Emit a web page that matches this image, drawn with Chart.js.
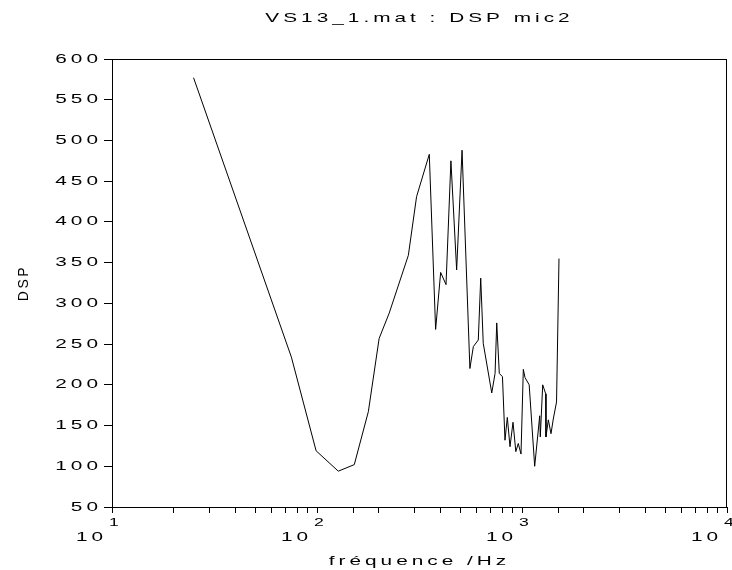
<!DOCTYPE html>
<html lang="fr">

<head>
    <meta charset="UTF-8">
    <script src="https://cdn.jsdelivr.net/npm/chart.js"></script>
    <title>VS13_1.mat : DSP mic2</title>
    <style>
        body { margin: 0; background: #fff; }
        canvas { display: block; }
    </style>
</head>

<body>
    <canvas id="graphDsp" width="732" height="570"></canvas>
</body>

</html>

<script>

    // valeurs
    const frequences = [25, 75, 99, 127, 152, 178, 201, 225, 279, 306,
        353, 379, 401, 426, 450, 480, 510, 557, 579, 612,
        629, 647, 712, 739, 753, 775, 803, 826, 848, 874,
        904, 933, 959, 989, 1015, 1034, 1084, 1153, 1220, 1228,
        1262, 1305, 1309, 1344, 1385, 1421, 1474, 1515];
    const dsp = [577, 234, 119, 94, 102, 167, 257, 288, 359, 431,
        483, 268, 338, 323, 475, 341, 488, 220, 247, 255,
        331, 251, 190, 214, 276, 214, 210, 132, 160, 124,
        154, 118, 128, 115, 219, 209, 200, 100, 162, 136,
        200, 189, 136, 157, 140, 158, 179, 355];

    // exposants des etiquettes 10^n de l'axe x
    const exposants = ['1', '2', '3', '4'];
    const yMin = 50, yMax = 600, yPas = 50;

    const police = "'Liberation Sans', Arial, sans-serif";
    const espacement = '2.5px';
    const etirement = 1.6; // le texte de la figure est elargi horizontalement

    const points = frequences.map((f, i) => ({ x: f, y: dsp[i] }));

    const ctx = document.getElementById('graphDsp').getContext('2d');

    // texte horizontal elargi autour de son point d'ancrage (le texte tourne reste normal)
    const fillTextOrig = ctx.fillText;
    ctx.fillText = function (texte, x, y, maxW) {
        const m = this.getTransform();
        if (Math.abs(m.b) > 0.01) {
            return fillTextOrig.call(this, texte, x, y, maxW);
        }
        this.save();
        this.translate(x, y);
        this.scale(etirement, 1);
        fillTextOrig.call(this, texte, 0, 0);
        this.restore();
    };

    // cadre complet + etiquettes "10" avec exposant
    const pluginCadre = {
        id: 'cadre',
        beforeDraw(chart) {
            chart.ctx.letterSpacing = espacement;
        },
        afterDraw(chart) {
            const c = chart.ctx;
            const a = chart.chartArea;
            const xs = chart.scales.x;
            c.save();
            c.strokeStyle = '#000';
            c.lineWidth = 1;
            c.strokeRect(Math.round(a.left) + 0.5, Math.round(a.top) + 0.5,
                Math.round(a.right - a.left) - 1, Math.round(a.bottom - a.top));

            c.fillStyle = '#000';
            c.textBaseline = 'middle';
            c.textAlign = 'left';
            c.letterSpacing = espacement;
            exposants.forEach(e => {
                const px = xs.getPixelForValue(Math.pow(10, Number(e)));
                c.font = '13px ' + police;
                c.fillText('10', px - 36, xs.top + 30);
                c.font = '11px ' + police;
                c.fillText(e, px - 3, xs.top + 16);
            });
            c.restore();
        }
    };

    const graph = new Chart(ctx, {
        type: 'line',
        data: {
            datasets: [{
                label: 'DSP mic2',
                data: points,
                borderColor: '#000',
                borderWidth: 1,
                pointRadius: 0,
                fill: false,
                tension: 0
            }]
        },
        options: {
            responsive: false,
            animation: false,
            layout: { padding: { right: 5 } },
            plugins: {
                legend: { display: false },
                tooltip: { enabled: false },
                title: {
                    display: true,
                    text: 'VS13_1.mat : DSP mic2',
                    fullSize: false,
                    color: '#000',
                    font: { family: police, size: 13, weight: 'normal' },
                    padding: { top: 11, bottom: 32.4 }
                }
            },
            scales: {
                x: {
                    type: 'logarithmic',
                    min: 10,
                    max: 10000,
                    border: { display: false },
                    grid: { drawOnChartArea: false, tickLength: 6, color: '#000' },
                    ticks: { display: false },
                    title: {
                        display: true,
                        text: 'fréquence /Hz',
                        color: '#000',
                        font: { family: police, size: 13 },
                        padding: { top: 0, bottom: 1 }
                    },
                    afterFit(s) { s.height = 63; }
                },
                y: {
                    min: yMin,
                    max: yMax,
                    border: { display: false },
                    grid: { drawOnChartArea: false, tickLength: 8, color: '#000' },
                    ticks: {
                        stepSize: yPas,
                        color: '#000',
                        padding: 2,
                        font: { family: police, size: 13 }
                    },
                    title: {
                        display: true,
                        text: 'DSP',
                        color: '#000',
                        font: { family: police, size: 14 },
                        padding: { top: 16, bottom: 0 }
                    },
                    afterFit(s) { s.width = 112; }
                }
            }
        },
        plugins: [pluginCadre]
    });
</script>
